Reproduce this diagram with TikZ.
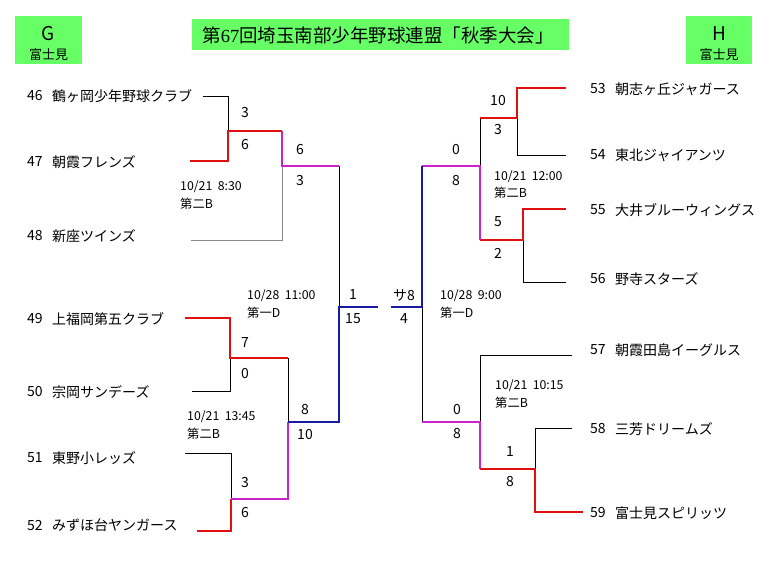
\documentclass[tikz,border=0pt]{standalone}
\usepackage{fontspec}
\setmainfont{Noto Sans CJK JP}
\newfontfamily\serifnum{Liberation Serif}
\definecolor{lgreen}{HTML}{66FF66}
\definecolor{redC}{HTML}{E01010}
\definecolor{magC}{HTML}{CC22CC}
\definecolor{bluC}{HTML}{1A1AA0}
\definecolor{grayC}{HTML}{8A8A8A}
\begin{document}
\begin{tikzpicture}[x=1pt,y=-1pt,
  team/.style={anchor=west,inner sep=0pt,font=\fontsize{14}{14}\selectfont},
  score/.style={inner sep=0pt,font=\fontsize{14}{14}\selectfont},
  datetxt/.style={anchor=west,inner sep=0pt,font=\fontsize{12.3}{12}\selectfont},
  lose/.style={line width=0.9pt,black},
  losegray/.style={line width=0.9pt,grayC},
  win/.style={line width=1.5pt,redC},
  semi/.style={line width=1.5pt,magC},
  fin/.style={line width=1.5pt,bluC},
  hbox/.style={fill=lgreen,draw=none,inner sep=0pt}]
\useasboundingbox (0,0) rectangle (768,576);
\fill[white] (0,0) rectangle (768,576);

% header
\node[hbox,minimum width=67pt,minimum height=48pt] (gbox) at (48.5,40) {};
\node[inner sep=0pt,font=\fontsize{19}{19}\selectfont] (gl) at (48.5,34) {G};
\node[inner sep=0pt,font=\fontsize{13}{13}\selectfont] (gs) at (48.5,55) {富士見};
\node[hbox,minimum width=66pt,minimum height=48pt] (hbx) at (719,40) {};
\node[inner sep=0pt,font=\fontsize{19}{19}\selectfont] (hl) at (719,34) {H};
\node[inner sep=0pt,font=\fontsize{13}{13}\selectfont] (hs) at (719,55) {富士見};
\node[hbox,minimum width=377pt,minimum height=31pt] (tbox) at (380.5,34.5) {};
\node[inner sep=0pt,font=\fontsize{18.5}{19}\selectfont] (title) at (378,35.5) {第{\serifnum 67}回埼玉南部少年野球連盟「秋季大会」};

% left teams
\node[team] (n46) at (27,96) {46};  \node[team] (t46) at (52,96) {鶴ヶ岡少年野球クラブ};
\node[team] (n47) at (27,162) {47}; \node[team] (t47) at (52,162) {朝霞フレンズ};
\node[team] (n48) at (27,236) {48}; \node[team] (t48) at (52,236) {新座ツインズ};
\node[team] (n49) at (27,319) {49}; \node[team] (t49) at (52,319) {上福岡第五クラブ};
\node[team] (n50) at (27,392) {50}; \node[team] (t50) at (52,392) {宗岡サンデーズ};
\node[team] (n51) at (27,458) {51}; \node[team] (t51) at (52,458) {東野小レッズ};
\node[team] (n52) at (27,525) {52}; \node[team] (t52) at (52,525) {みずほ台ヤンガース};
% right teams
\node[team] (n53) at (590,89) {53};  \node[team] (t53) at (615,89) {朝志ヶ丘ジャガース};
\node[team] (n54) at (590,155) {54}; \node[team] (t54) at (615,155) {東北ジャイアンツ};
\node[team] (n55) at (590,210) {55}; \node[team] (t55) at (615,210) {大井ブルーウィングス};
\node[team] (n56) at (590,279) {56}; \node[team] (t56) at (615,279) {野寺スターズ};
\node[team] (n57) at (590,350) {57}; \node[team] (t57) at (615,350) {朝霞田島イーグルス};
\node[team] (n58) at (590,429) {58}; \node[team] (t58) at (615,429) {三芳ドリームズ};
\node[team] (n59) at (590,513) {59}; \node[team] (t59) at (615,513) {富士見スピリッツ};

% coordinates left
\coordinate (e46) at (203,96);  \coordinate (j46) at (228,96);
\coordinate (e47) at (190,161); \coordinate (j47) at (228,161);
\coordinate (m1) at (228,131);  \coordinate (m1r) at (282,131);
\coordinate (m1d) at (282,166); \coordinate (s1) at (339,166);
\coordinate (e48) at (191,240); \coordinate (j48) at (282,240);
\coordinate (f1) at (339,307);  \coordinate (f1e) at (378,307);
\coordinate (s2) at (339,422);  \coordinate (s2l) at (288,422);
\coordinate (e49) at (185,318); \coordinate (j49) at (230,318);
\coordinate (m2) at (230,358);  \coordinate (m2r) at (288,358);
\coordinate (e50) at (192,391); \coordinate (j50) at (230,391);
\coordinate (m3r) at (288,499); \coordinate (m3) at (231,499);
\coordinate (e51) at (185,453); \coordinate (j51) at (231,453);
\coordinate (e52) at (197,531); \coordinate (j52) at (231,531);
% coordinates right
\coordinate (f2e) at (391,307); \coordinate (f2) at (422,307);
\coordinate (s3) at (422,166);  \coordinate (s3r) at (480,166);
\coordinate (m4) at (480,118);  \coordinate (m4r) at (517,118);
\coordinate (e53) at (566,88);  \coordinate (j53) at (517,88);
\coordinate (e54) at (566,155); \coordinate (j54) at (517,155);
\coordinate (m5) at (480,240);  \coordinate (m5r) at (523,240);
\coordinate (e55) at (566,209); \coordinate (j55) at (523,209);
\coordinate (e56) at (566,282); \coordinate (j56) at (523,282);
\coordinate (s4) at (422,422);  \coordinate (s4r) at (480,422);
\coordinate (j57) at (480,355); \coordinate (e57) at (572,355);
\coordinate (m6) at (480,469);  \coordinate (m6r) at (535,469);
\coordinate (j58) at (535,428); \coordinate (e58) at (572,428);
\coordinate (j59) at (535,512); \coordinate (e59) at (583,512);

% left lines
\draw[lose] (e46) -- (j46) -- (m1);
\draw[losegray] (e48) -- (j48) -- (m1d);
\draw[lose] (s1) -- (f1);
\draw[lose] (e50) -- (j50) -- (m2);
\draw[lose] (m2r) -- (s2l);
\draw[lose] (e51) -- (j51) -- (m3);
\draw[win] (e47) -- (j47) -- (m1) -- (m1r);
\draw[semi] (m1r) -- (m1d) -- (s1);
\draw[win] (e49) -- (j49) -- (m2) -- (m2r);
\draw[win] (e52) -- (j52) -- (m3);
\draw[semi] (m3) -- (m3r) -- (s2l);
\draw[fin] (f1e) -- (f1) -- (s2) -- (s2l);
% right lines
\draw[lose] (s3r) -- (m4);
\draw[lose] (e54) -- (j54) -- (m4r);
\draw[lose] (e56) -- (j56) -- (m5r);
\draw[lose] (f2) -- (s4);
\draw[lose] (s4r) -- (j57) -- (e57);
\draw[lose] (e58) -- (j58) -- (m6r);
\draw[win] (e53) -- (j53) -- (m4r) -- (m4);
\draw[win] (e55) -- (j55) -- (m5r) -- (m5);
\draw[win] (m6) -- (m6r) -- (j59) -- (e59);
\draw[semi] (s3) -- (s3r) -- (m5);
\draw[semi] (s4) -- (s4r) -- (m6);
\draw[fin] (f2e) -- (f2) -- (s3);

% scores left
\node[score] (a1) at (245,113) {3};  \node[score] (a2) at (245,145) {6};
\node[score] (a3) at (300,150) {6};  \node[score] (a4) at (300,181) {3};
\node[score] (a5) at (245,343) {7};  \node[score] (a6) at (245,374) {0};
\node[score] (a7) at (305,410) {8};  \node[score] (a8) at (305,435) {10};
\node[score] (a9) at (245,483) {3};  \node[score] (a10) at (245,513) {6};
\node[score] (a11) at (353,295) {1}; \node[score] (a12) at (353,319) {15};
% scores right
\node[score] (b1) at (404,295) {サ8}; \node[score] (b2) at (404,319) {4};
\node[score] (b3) at (498,101) {10}; \node[score] (b4) at (498,130) {3};
\node[score] (b5) at (456,150) {0};  \node[score] (b6) at (456,181) {8};
\node[score] (b7) at (498,222) {5};  \node[score] (b8) at (498,253) {2};
\node[score] (b9) at (457,410) {0};  \node[score] (b10) at (457,434) {8};
\node[score] (b11) at (510,452) {1}; \node[score] (b12) at (510,482) {8};

% dates
\node[datetxt] (d1) at (180,187) {10/21\ \ 8:30};  \node[datetxt] (p1) at (180,204) {第二B};
\node[datetxt] (d2) at (247,296) {10/28\ \ 11:00}; \node[datetxt] (p2) at (247,313) {第一D};
\node[datetxt] (d3) at (187,417) {10/21\ \ 13:45}; \node[datetxt] (p3) at (187,434) {第二B};
\node[datetxt] (d4) at (494,177) {10/21\ \ 12:00}; \node[datetxt] (p4) at (494,193) {第二B};
\node[datetxt] (d5) at (440,296) {10/28\ \ 9:00};  \node[datetxt] (p5) at (440,313) {第一D};
\node[datetxt] (d6) at (495,386) {10/21\ \ 10:15}; \node[datetxt] (p6) at (495,403) {第二B};
\end{tikzpicture}
\end{document}
